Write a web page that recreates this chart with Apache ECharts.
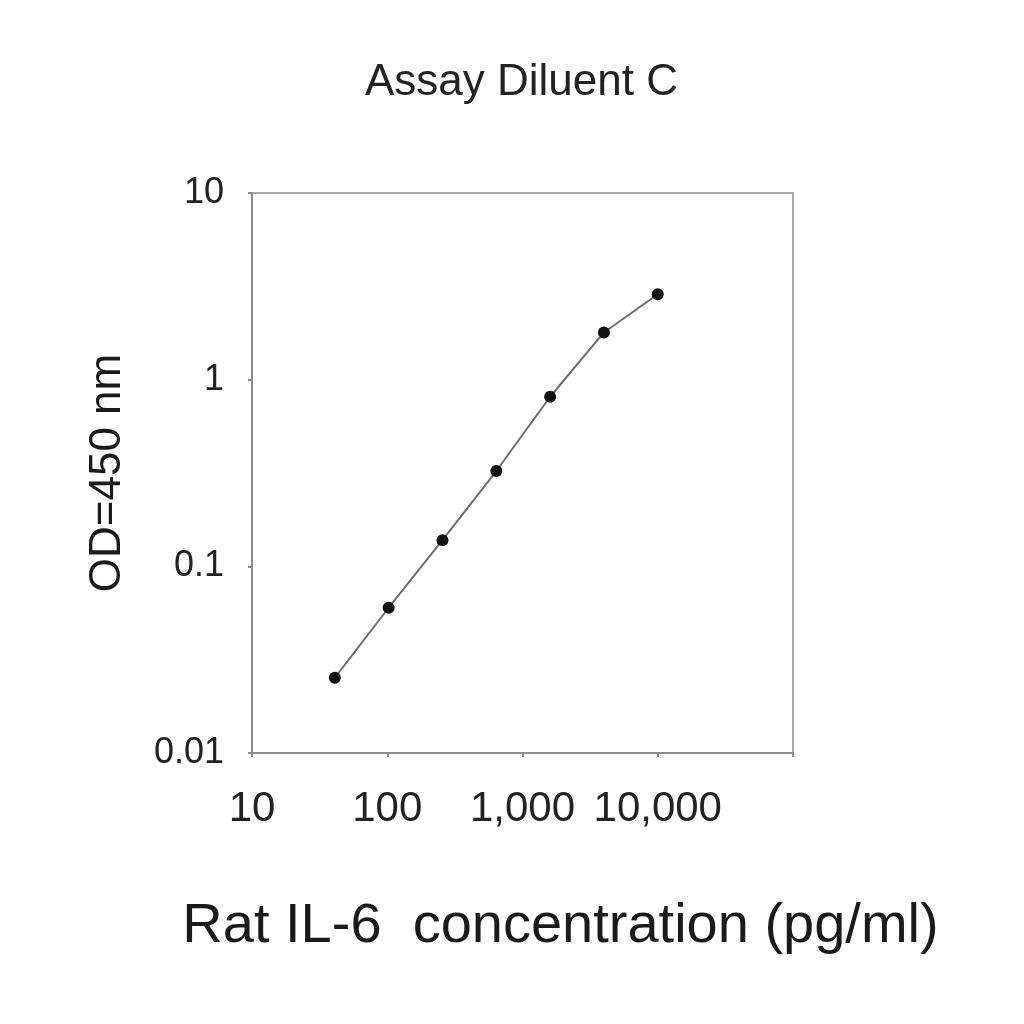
<!DOCTYPE html>
<html>
<head>
<meta charset="utf-8">
<title>Assay Diluent C</title>
<script src="https://cdn.jsdelivr.net/npm/echarts@6/dist/echarts.min.js"></script>
<style>
  html, body { margin: 0; padding: 0; background: #fff; }
  #chart { width: 1024px; height: 1024px; }
</style>
</head>
<body>
<div id="chart"></div>
<script>
// standard curve
var concentrations = [40.96, 102.4, 256, 640, 1600, 4000, 10000];
var odValues = [0.0253, 0.060, 0.138, 0.324, 0.81, 1.79, 2.87];

var xTicks = {10: '10', 100: '100', 1000: '1,000', 10000: '10,000'};
var yTicks = {0.01: '0.01', 0.1: '0.1', 1: '1', 10: '10'};

var font = 'Liberation Sans, Arial, Helvetica, sans-serif';
var axisGray = '#8c8c8c';

var myChart = echarts.init(document.getElementById('chart'));

var points = concentrations.map(function (c, i) { return [c, odValues[i]]; });

function tickLabel(map, v) {
  for (var k in map) {
    if (Math.abs(Math.log10(v) - Math.log10(+k)) < 1e-6) { return map[k]; }
  }
  return '';
}

var option = {
  backgroundColor: '#fff',
  animation: false,
  title: {
    text: 'Assay Diluent C',
    left: 360, top: 56,
    textStyle: {fontFamily: font, fontSize: 44, fontWeight: 'normal', color: '#222'}
  },
  grid: {
    left: 252, right: 231, top: 193, bottom: 271,
    show: true, borderColor: '#aaa', borderWidth: 2, backgroundColor: '#fff'
  },
  xAxis: {
    type: 'log', logBase: 10, min: 10, max: 100000,
    name: 'Rat IL-6  concentration (pg/ml)',
    nameLocation: 'middle', nameGap: 146,
    nameTextStyle: {fontFamily: font, fontSize: 56, color: '#1a1a1a', padding: [0, 0, 0, 76]},
    axisLine: {show: true, lineStyle: {color: axisGray, width: 2}},
    axisTick: {show: true, length: 4, lineStyle: {color: axisGray, width: 2}},
    splitLine: {show: false},
    minorTick: {show: false},
    axisLabel: {
      margin: 35, fontFamily: font, fontSize: 42, color: '#222',
      formatter: function (v) { return tickLabel(xTicks, v); }
    }
  },
  yAxis: {
    type: 'log', logBase: 10, min: 0.01, max: 10,
    name: 'OD=450 nm',
    nameLocation: 'middle', nameGap: 122, nameRotate: 90,
    nameTextStyle: {fontFamily: font, fontSize: 44, color: '#1a1a1a'},
    axisLine: {show: true, lineStyle: {color: axisGray, width: 2}},
    axisTick: {show: true, length: 4, lineStyle: {color: axisGray, width: 2}},
    splitLine: {show: false},
    axisLabel: {
      margin: 28, fontFamily: font, fontSize: 36, color: '#222',
      formatter: function (v) { return tickLabel(yTicks, v); }
    }
  },
  series: [{
    type: 'line',
    data: points,
    symbol: 'circle',
    symbolSize: 12,
    lineStyle: {color: '#6e6e6e', width: 2},
    itemStyle: {color: '#111', borderWidth: 0}
  }]
};

myChart.setOption(option);
</script>
</body>
</html>
